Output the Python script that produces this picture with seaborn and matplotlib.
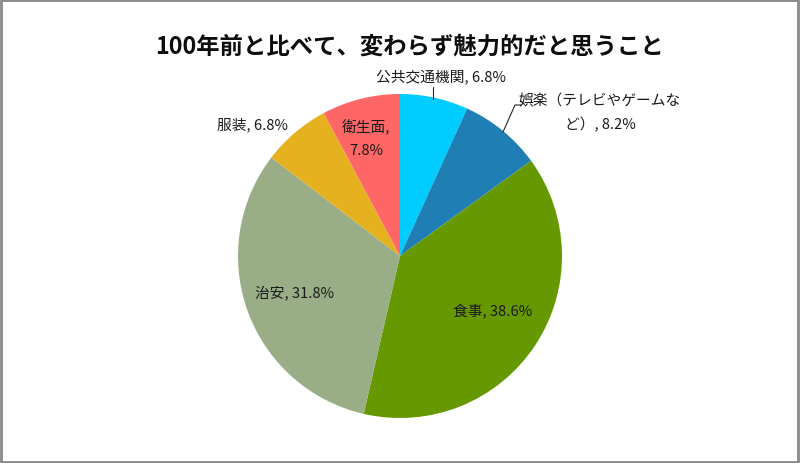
import matplotlib
matplotlib.use("Agg")
import matplotlib.pyplot as plt
from matplotlib.patches import Rectangle
import seaborn as sns

sns.set_theme(style="white")
plt.rcParams['font.family'] = ['Noto Sans CJK JP', 'DejaVu Sans']

title = "100年前と比べて、変わらず魅力的だと思うこと"
categories = ["公共交通機関", "娯楽（テレビやゲームなど）", "食事", "治安", "服装", "衛生面"]
values = [6.8, 8.2, 38.6, 31.8, 6.8, 7.8]
colors = ["#00CCFF", "#1F7FB4", "#669900", "#99AE86", "#E6B11E", "#FF6666"]
label_texts = ["公共交通機関, 6.8%", "娯楽（テレビやゲームな\nど）, 8.2%", "食事, 38.6%",
               "治安, 31.8%", "服装, 6.8%", "衛生面,\n7.8%"]

W, H = 800, 464
fig = plt.figure(figsize=(W / 100, H / 100), dpi=100)
cx, cy, r = 400, 257, 162
ax = fig.add_axes([(cx - r) / W, (H - cy - r) / H, 2 * r / W, 2 * r / H])
ax.pie(values, colors=colors, startangle=90, counterclock=False, radius=1,
       wedgeprops=dict(linewidth=0))
ax.set_xlim(-1, 1)
ax.set_ylim(-1, 1)
ax.set_axis_off()

def d(px, py):
    return ((px - cx) / r, (cy - py) / r)

# label positions in pixel space of the reference
pos = [(441, 77), (600, 113), (493, 311), (295, 293), (252, 125), (366, 139)]
for txt, (px, py) in zip(label_texts, pos):
    x, y = d(px, py)
    ax.text(x, y, txt, ha="center", va="center", fontsize=10.6, color="#1a1a1a",
            linespacing=1.75, clip_on=False)

# leader lines
x0, y0 = d(433, 88); x1, y1 = d(433, 100)
ax.plot([x0, x1], [y0, y1], color="#262626", lw=0.8, clip_on=False)
xa, ya = d(521, 106); xb, yb = d(515, 106); xc, yc = d(503, 133)
ax.plot([xa, xb, xc], [ya, yb, yc], color="#262626", lw=0.8, clip_on=False)

fig.text(410 / W, 1 - 47 / H, title, ha="center", va="center", fontsize=16.8,
         fontweight="bold", color="#0d0d0d")

fig.patches.append(Rectangle((0.001, 0.002), 0.997, 0.995, transform=fig.transFigure,
                             fill=False, edgecolor="#888888", linewidth=2))

fig.savefig("out.png", dpi=100, facecolor="white")
